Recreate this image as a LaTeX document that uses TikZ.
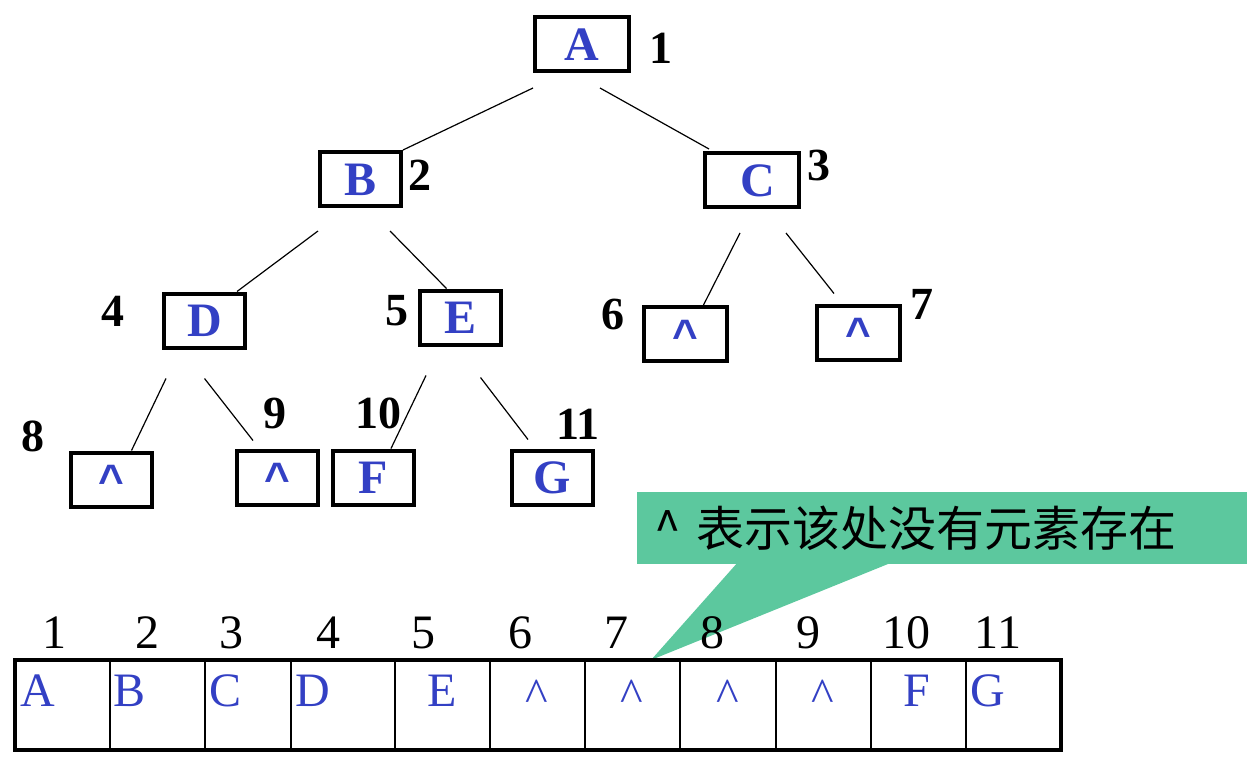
\documentclass[tikz,border=0pt]{standalone}
\usepackage{fontspec}
\setmainfont{Liberation Serif}
\newfontfamily\cjk{Noto Sans CJK SC}
\newfontfamily\caretfont{Liberation Sans}
\usetikzlibrary{calc,positioning,backgrounds}
\definecolor{letterblue}{RGB}{51,64,196}
\definecolor{notegreen}{RGB}{92,200,158}
\newcommand{\nilmark}{\textasciicircum}

\begin{document}
\begin{tikzpicture}[
  x=1pt, y=-1pt,
  treebox/.style={draw, line width=4pt, minimum width=81pt, minimum height=54pt, inner sep=0pt, text height=32pt, text depth=0pt, text=letterblue, font=\fontsize{48}{48}\selectfont\bfseries},
  widebox/.style={treebox, minimum width=94pt},
  nilbox/.style={treebox, font=\caretfont\fontsize{44}{44}\selectfont\bfseries},
  treenum/.style={inner sep=0pt, font=\fontsize{46}{46}\selectfont\bfseries},
  edge/.style={line width=1.2pt},
  cell/.style={draw, line width=1.6pt, minimum height=90pt, inner sep=0pt, outer sep=0pt},
  cellchar/.style={anchor=base, inner sep=0pt, text=letterblue, font=\fontsize{48}{48}\selectfont},
  cellnum/.style={inner sep=0pt, font=\fontsize{48}{48}\selectfont},
  callout/.style={fill=notegreen, anchor=west, minimum height=72pt, text width=576pt, inner xsep=17pt, inner ysep=0pt, align=left, font=\cjk\fontsize{48}{48}\selectfont}
]
  \useasboundingbox (0,0) rectangle (1256,760);

  % tree
  \node[widebox] (A) at (582,44) {A};
  \node[treebox] (B) at (360.5,179) {B};
  \node[widebox] (C) at (752,180) {\hspace*{12pt}C};
  \node[treebox] (D) at (204.5,320.5) {D};
  \node[treebox] (E) at (460.5,317.5) {E};
  \node[nilbox, minimum width=83pt] (n6) at (685.5,334) {\nilmark};
  \node[nilbox, minimum width=83pt] (n7) at (858.5,332.5) {\nilmark};
  \node[nilbox] (n8) at (111.5,479.5) {\nilmark};
  \node[nilbox] (n9) at (277.5,477.5) {\nilmark};
  \node[treebox] (F) at (373,477.5) {F};
  \node[treebox] (G) at (552.5,477.5) {G};

  \node[treenum] (k1) at (661,48) {1};
  \node[treenum] (k2) at (420,175) {2};
  \node[treenum] (k3) at (819,165) {3};
  \node[treenum] (k4) at (113,311) {4};
  \node[treenum] (k5) at (397,311) {5};
  \node[treenum] (k6) at (613,314) {6};
  \node[treenum] (k7) at (922,304) {7};
  \node[treenum] (k8) at (33,436) {8};
  \node[treenum] (k9) at (275,413) {9};
  \node[treenum] (k10) at (378,413) {10};
  \node[treenum] (k11) at (578,424) {11};

  \draw[edge] ($(A.south west)+(0,15)$) -- (B.north east);
  \draw[edge] ($(A.south)+(18,15)$) -- ($(C.north west)+(6,-2)$);
  \draw[edge] ($(B.south west)+(0,23)$) -- ($(D.north east)+(-10,0)$);
  \draw[edge] ($(B.south east)+(-13,23)$) -- ($(E.north)+(-14,0)$);
  \draw[edge] ($(C.south)+(-12,24)$) -- ($(n6.north)+(18,0)$);
  \draw[edge] ($(C.south)+(34,24)$) -- ($(n7.north west)+(19,-10)$);
  \draw[edge] ($(D.south west)+(4,29)$) -- ($(n8.north)+(20,0)$);
  \draw[edge] ($(D.south)+(0,29)$) -- ($(n9.north west)+(18,-8)$);
  \draw[edge] ($(E.south west)+(8,29)$) -- ($(F.north)+(18,0)$);
  \draw[edge] ($(E.south)+(20,31)$) -- ($(G.north west)+(18,-9)$);

  % sequential storage
  \foreach \i/\l/\r/\t/\tx/\ty/\nx in {1/15/110/A/38/706/54, 2/110/205/B/130/706/147, 3/205/291/C/226/706/231,
      4/291/395/D/313/706/328, 5/395/490/E/442/706/423, 6/490/585/\nilmark/537/711/520,
      7/585/680/\nilmark/632/711/616, 8/680/776/\nilmark/728/711/712, 9/776/871/\nilmark/823/711/808,
      10/871/966/F/917/706/906, 11/966/1061/G/988/706/998} {
    \node[cell, minimum width={\r-\l}] (c\i) at ({(\l+\r)/2},705) {};
    \node[cellchar] (t\i) at (\tx,\ty) {\t};
    \node[cellnum] (i\i) at (\nx,633) {\i};
  }
  \draw[line width=3.2pt] (c1.north west) rectangle (c11.south east);

  % callout
  \begin{scope}[on background layer]
    \node[callout] (note) at (637,528) {\nilmark{} 表示该处没有元素存在};
    \fill[notegreen] ($(note.south west)+(100,-1)$) -- ($(note.south west)+(253,-1)$) -- ($(c7.north west)+(66,0)$) -- cycle;
  \end{scope}
\end{tikzpicture}
\end{document}
